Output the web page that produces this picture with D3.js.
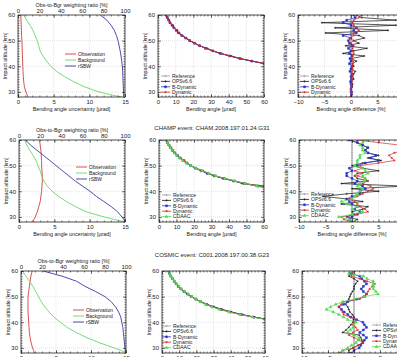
<!DOCTYPE html>
<html>
<head>
<meta charset="utf-8">
<script src="https://cdn.jsdelivr.net/npm/d3@7"></script>
<style>
  body { margin: 0; background: #fff; }
  text { font-family: "Liberation Sans", Arial, sans-serif; fill: #222; }
</style>
</head>
<body>
<div id="chart"></div>
<script>
// altitude levels [km]
var uncAlt = [60, 58, 56, 54, 52, 50, 48, 46, 44, 42, 40, 38, 36, 34, 32, 30, 29, 28];
var bendAlt = [60, 59, 58, 57, 56, 55, 54, 53, 52, 51, 50, 49, 48, 47, 46, 45, 44, 43, 42, 41, 40];
var diffAlt = [60, 59, 58, 57, 56, 55, 54, 53, 52, 51, 50, 49, 48, 47, 46, 45, 44, 43, 42, 41, 40,
               39, 38, 37, 36, 35, 34, 33, 32, 31, 30, 29, 28];

// tick labels
var altTicks = [30, 40, 50, 60];
var uncTicks = [0, 5, 10, 15];
var ratioTicks = [0, 20, 40, 60, 80, 100];
var bendTicks = [0, 10, 20, 30, 40, 50, 60];
var diffTicks = [-10, -5, 0, 5, 10];

var rowTitles = ["", "CHAMP event: CHAM.2008.197.01.24.G31", "COSMIC event: C001.2008.197.00.38.G23"];
var uncNames = ["Observation", "Background", "rSBW"];
var methods = ["Reference", "OPSv6.6", "B-Dynamic", "Dynamic", "CDAAC"];

// left panels: uncertainty [urad] and weighting ratio [%]
var obs1 = [0.4, 0.42, 0.45, 0.48, 0.5, 0.55, 0.58, 0.6, 0.62, 0.65, 0.68, 0.7, 0.75, 0.8, 0.9, 1.1, 1.25, 1.4];
var bgr1 = [0.8, 1.2, 1.7, 2.1, 2.4, 2.7, 2.9, 3.1, 3.5, 4.0, 4.6, 5.4, 6.5, 7.8, 9.3, 11.3, 12.8, 14.5];
var rsbw1 = [77, 83, 87, 90, 92, 93.5, 94.5, 95.5, 96.3, 97, 97.5, 97.8, 98, 98.2, 98.4, 98.6, 98.7, 98.8];

var obs2 = [2.9, 3.0, 3.1, 3.15, 3.2, 3.2, 3.25, 3.3, 3.3, 3.25, 3.2, 3.1, 3.0, 2.8, 2.6, 2.3, 2.1, 1.8];
var bgr2 = [0.8, 1.1, 1.5, 2.0, 2.4, 2.7, 3.0, 3.2, 3.5, 4.0, 4.7, 5.6, 6.7, 8.0, 9.5, 12.0, 13.5, 15];
var rsbw2 = [6, 11, 17, 23, 29, 35, 41, 47, 53, 60, 67, 73, 80, 87, 93, 97, 99, 100];

var obs3 = [1.6, 1.4, 1.3, 1.2, 1.1, 1.0, 1.0, 1.0, 1.0, 1.05, 1.1, 1.15, 1.2, 1.3, 1.45, 1.65, 1.8, 1.9];
var bgr3 = [0.2, 0.7, 1.2, 1.7, 2.1, 2.5, 2.9, 3.4, 4.0, 4.7, 5.6, 6.6, 7.9, 9.4, 11.2, 13.3, 14.3, 15];
var rsbw3 = [21, 39, 53, 61, 71, 80, 86, 90, 93, 95, 96, 97, 97.5, 98, 98.5, 99, 99.3, 99.5];

// middle panels: reference bending angle [urad]
var bend1 = [4.5, 5.2, 6.0, 6.9, 7.9, 9.0, 10.3, 11.8, 13.6, 15.6, 18.0, 20.6, 23.6, 27.0, 31.0, 35.5, 40.5, 46.5, 53.0, 60.5, 69.0];
var bend2 = [4.0, 4.7, 5.5, 6.4, 7.4, 8.6, 10.0, 11.6, 13.4, 15.5, 18.0, 20.8, 24.0, 27.7, 31.9, 36.7, 42.2, 48.5, 55.5, 63.5, 72.5];
var bend3 = [3.8, 4.4, 5.1, 6.0, 7.0, 8.1, 9.4, 10.9, 12.7, 14.7, 17.0, 19.7, 22.8, 26.4, 30.5, 35.2, 40.6, 46.8, 53.8, 61.8, 70.8];

// right panels: bending angle difference [%]
var ref0 = [0, 0, 0, 0, 0, 0, 0, 0, 0, 0, 0, 0, 0, 0, 0, 0, 0, 0, 0, 0, 0, 0, 0, 0, 0, 0, 0, 0, 0, 0, 0, 0, 0];

var ops1 = [1, 2, 8.5, -5.5, 8.5, -3, 7, -4.8, 1.5, 2.5, 0.5, 1.5, -1, 3, 0.5, -1.5, 2.5, 0, 1, 0.3, 0.5, 0, 0.8, 0.5, 0.3, 0.5, 0, 0.3, 0.2, 0, 0.2, 0.1, 0];
var bdyn1 = [0.5, 0.8, -0.8, -1.5, 0, 1, 0.5, 1, -1.5, 0, -0.5, -0.3, 0.3, -0.5, 0, -0.3, 0.2, -0.2, 0, -0.3, 0.2, 0, -0.2, 0.2, 0, 0.1, -0.1, 0, 0.1, 0, 0, 0.1, 0];
var dyn1 = [2, 1.5, 0.5, 0.3, 0.5, 1, 1.5, 0.5, 0.5, -0.3, 0.5, 0, 0.5, 0.3, 0.2, 0.5, 0.3, 0.2, 0.4, 0.3, 0.2, 0.3, 0.2, 0.3, 0.2, 0.1, 0.2, 0.1, 0.1, 0, 0.1, 0.1, 0];

var ops2 = [-0.5, 1, 2, 3, 2.5, 3, 5, 3, 5.5, 2, 0, 2, 5, 1, 0.5, 1, 3, -2, 10, 0, 5, -1, -5.5, -1, 2, -2, 3, 2, 0, 0.5, -1, 1, 0];
var bdyn2 = [-0.5, 1, 2, 3, 2.5, 3, 4.5, 3.5, 5, 2.5, 1, -0.5, 0, -1, -1, 0, 1, 0.5, 2, 2.5, 1.5, 1.5, 0, -1, -0.5, 0, 1, 0.5, 1.5, 1, 0, -0.5, 0];
var dyn2 = [1, 5, 9, 11.5, 10, 8, 7, 7.5, 8, 5, 1.5, 2, 0.5, 2, 1, 2.5, 3, 2, 3.5, 4, 3, 2, 1, -0.5, 0.5, 1, 1.5, 2.5, 3, 1, -2, -1.5, 0];
var cdaac2 = [3, 2, 1.5, 2, 2, 2.5, 1.5, 1.5, 1, 1, 0.5, 2, 2.5, 3, 2, 2.5, 2.5, 1.5, 1, 2, 1.5, 1, 0.5, 0, -2, -1, 1, 0, 2, 0, -2.5, -0.5, 0.5];

var ops3 = [0, -0.5, -1, 0, 0.7, 0.3, 0, 0, -0.3, -0.6, -0.8, -1, -1.3, -1.6, -1.2, -1, -0.8, -0.3, 0, -0.1, -0.2, -0.6, -1, -1.5, -2.2, 1, 1.3, 1.5, 1.7, 0.8, -0.2, -1, -1];
var bdyn3 = [-0.2, -0.8, 1.1, 1.5, 2, 2.4, 1.8, 1.4, 1.8, 2.4, 2, 0.5, -1.2, -2, -2.9, -2.4, -1.9, -1.2, -0.6, 0.5, 1.7, 2, 2.4, 1.8, 1.1, 1.8, 2.4, 2, 1.7, 1.3, 1, 0, -0.5];
var dyn3 = [0, -0.3, -0.5, 1.1, 2.5, 4, 3.5, 3, 2.7, 2.4, 1.8, 1.1, -2, -2.5, -2.9, -2.5, -2.2, -2, -0.8, 0.4, 0.1, -0.2, 0.3, 0.7, -0.2, -1, 0, 1, 1.7, 0.8, 0, -2.2, -2.5];
var cdaac3 = [0, -1, 1.8, 2.5, 3.7, 3.7, 3.8, 3.7, 4.2, 4.6, 2, 0, -2.2, -3.5, -4.5, -5.3, -4, -2.9, -2, -1.2, 0.4, 0, -0.2, -0.7, -1.2, 0, 1, 0.8, 0.4, -0.5, -1.2, -2.2, -3];

var uncColors = ["#d23c3c", "#66d866", "#3b3ba3"];
var methodColors = ["#9a9a9a", "#111111", "#2430c8", "#d42a2a", "#55d855"];
var methodMarks = ["plus", "plus", "square", "star", "triangle"];

var rows = [
    { unc: [obs1, bgr1, rsbw1], bend: bend1, diff: [ref0, ops1, bdyn1, dyn1] },
    { unc: [obs2, bgr2, rsbw2], bend: bend2, diff: [ref0, ops2, bdyn2, dyn2, cdaac2] },
    { unc: [obs3, bgr3, rsbw3], bend: bend3, diff: [ref0, ops3, bdyn3, dyn3, cdaac3] }
];

// placement of the panels in each row (pixels)
var layout = [
    { top: 15, h: 82, left: [18, 107], mid: [158, 106], right: [298, 106], titleY: 2,
      legL: [47, 39], legM: [3, 61], legR: [2, 61] },
    { top: 140, h: 82, left: [19, 106], mid: [159, 105], right: [299, 106], titleY: 130,
      legL: [57, 27], legM: [3, 55], legR: [1, 54] },
    { top: 271, h: 82, left: [21, 105], mid: [162, 103], right: [302, 104], titleY: 257,
      legL: [52, 39], legM: [0, 55], legR: [70, 54] }
];

var svg = d3.select("#chart").append("svg")
    .attr("width", 397)
    .attr("height", 357)
    .style("background", "#fff");

var clipCount = 0;

function range(a, b, s) {
    var out = [];
    for (var v = a; v <= b + 1e-9; v += s) out.push(+v.toFixed(3));
    return out;
}

// frame, dotted grid, inward major + minor ticks on all sides
function makePanel(px, py, w, h, x, y, xt, xMinor, yt, yMinor, xTitle) {
    var g = svg.append("g").attr("transform", "translate(" + px + "," + py + ")");
    var id = "clip" + (clipCount++);
    g.append("clipPath").attr("id", id).append("rect").attr("width", w).attr("height", h);

    var grid = g.append("g").attr("stroke", "#c8c8c8").attr("stroke-width", 0.5).attr("stroke-dasharray", "1,1");
    xt.forEach(function (t) {
        if (x(t) > 0.5 && x(t) < w - 0.5)
            grid.append("line").attr("x1", x(t)).attr("x2", x(t)).attr("y1", 0).attr("y2", h);
    });
    yt.forEach(function (t) {
        if (y(t) > 0.5 && y(t) < h - 0.5)
            grid.append("line").attr("y1", y(t)).attr("y2", y(t)).attr("x1", 0).attr("x2", w);
    });

    var plot = g.append("g").attr("clip-path", "url(#" + id + ")");

    g.append("g").attr("transform", "translate(0," + h + ")")
        .call(d3.axisBottom(x).tickValues(xt).tickSize(-3).tickPadding(3).tickFormat(d3.format("d")));
    g.append("g").attr("transform", "translate(0," + h + ")")
        .call(d3.axisBottom(x).tickValues(xMinor).tickSize(-1.5).tickFormat(""));
    g.append("g").call(d3.axisTop(x).tickValues(xt).tickSize(-3).tickFormat(""));
    g.append("g").call(d3.axisTop(x).tickValues(xMinor).tickSize(-1.5).tickFormat(""));
    g.append("g")
        .call(d3.axisLeft(y).tickValues(yt).tickSize(-3).tickPadding(3).tickFormat(d3.format("d")));
    g.append("g").call(d3.axisLeft(y).tickValues(yMinor).tickSize(-1.5).tickFormat(""));
    g.append("g").attr("transform", "translate(" + w + ",0)")
        .call(d3.axisRight(y).tickValues(yt).tickSize(-3).tickFormat(""));
    g.append("g").attr("transform", "translate(" + w + ",0)")
        .call(d3.axisRight(y).tickValues(yMinor).tickSize(-1.5).tickFormat(""));

    g.append("rect").attr("width", w).attr("height", h)
        .attr("fill", "none").attr("stroke", "#222").attr("stroke-width", 0.8);

    g.append("text").attr("x", w / 2).attr("y", h + 14)
        .attr("text-anchor", "middle").style("font-size", "5.4px").text(xTitle);
    g.append("text").attr("transform", "translate(-11," + (h / 2) + ") rotate(-90)")
        .attr("text-anchor", "middle").style("font-size", "5.4px").text("Impact altitude [km]");

    return { g: g, plot: plot };
}

function markPath(type, s) {
    if (type === "plus") return "M" + (-s) + ",0H" + s + "M0," + (-s) + "V" + s;
    if (type === "star") return "M" + (-s) + ",0H" + s + "M0," + (-s) + "V" + s +
        "M" + (-s * 0.7) + "," + (-s * 0.7) + "L" + (s * 0.7) + "," + (s * 0.7) +
        "M" + (-s * 0.7) + "," + (s * 0.7) + "L" + (s * 0.7) + "," + (-s * 0.7);
    if (type === "square") return d3.symbol(d3.symbolSquare, 3.5)();
    return d3.symbol(d3.symbolTriangle, 3.5)();
}

function drawMarks(sel, pts, type, color, s) {
    sel.selectAll(null).data(pts).enter().append("path")
        .attr("transform", function (p) { return "translate(" + p[0] + "," + p[1] + ")"; })
        .attr("d", markPath(type, s))
        .attr("fill", type === "square" || type === "triangle" ? color : "none")
        .attr("stroke", color)
        .attr("stroke-width", 0.5);
}

function methodLegend(g, x0, y0, n) {
    for (var i = 0; i < n; i++) {
        var yy = y0 + i * 5.4;
        g.append("line").attr("x1", x0).attr("x2", x0 + 9).attr("y1", yy).attr("y2", yy)
            .attr("stroke", methodColors[i]).attr("stroke-width", 0.8);
        drawMarks(g, [[x0 + 4.5, yy]], methodMarks[i], methodColors[i], 1.2);
        g.append("text").attr("x", x0 + 11).attr("y", yy).attr("dy", "0.35em")
            .style("font-size", "5px").text(methods[i]);
    }
}

rows.forEach(function (row, r) {
    var L = layout[r];
    var h = L.h;
    var y = d3.scaleLinear().domain([28, 60]).range([h, 0]);
    var yMinor = range(28, 60, 1);

    if (rowTitles[r])
        svg.append("text").attr("x", 212).attr("y", L.titleY)
            .attr("text-anchor", "middle").style("font-size", "6px").text(rowTitles[r]);

    // ---- left: uncertainties and weighting ratio
    var wL = L.left[1];
    var xu = d3.scaleLinear().domain([0, 15]).range([0, wL]);
    var xr = d3.scaleLinear().domain([0, 100]).range([0, wL]);
    var pL = makePanel(L.left[0], L.top, wL, h, xu, y, uncTicks, range(0, 15, 1), altTicks, yMinor,
        "Bending angle uncertainty [\u00b5rad]");
    pL.g.append("g")
        .call(d3.axisTop(xr).tickValues(ratioTicks).tickSize(0).tickPadding(2));
    pL.g.append("text").attr("x", wL / 2).attr("y", -8)
        .attr("text-anchor", "middle").style("font-size", "5.4px").text("Obs-to-Bgr weighting ratio [%]");

    row.unc.forEach(function (vals, k) {
        var xs = k === 2 ? xr : xu;
        var line = d3.line()
            .x(function (d, i) { return xs(vals[i]); })
            .y(function (d) { return y(d); });
        pL.plot.append("path").datum(uncAlt).attr("d", line)
            .attr("fill", "none").attr("stroke", uncColors[k]).attr("stroke-width", 0.9);
        var ly = L.legL[1] + k * 6;
        pL.g.append("line").attr("x1", L.legL[0]).attr("x2", L.legL[0] + 11)
            .attr("y1", ly).attr("y2", ly).attr("stroke", uncColors[k]).attr("stroke-width", 0.9);
        pL.g.append("text").attr("x", L.legL[0] + 13).attr("y", ly).attr("dy", "0.35em")
            .style("font-size", "5px").text(uncNames[k]);
    });

    // ---- middle: bending angle profiles
    var wM = L.mid[1];
    var xb = d3.scaleLinear().domain([0, 60]).range([0, wM]);
    var pM = makePanel(L.mid[0], L.top, wM, h, xb, y, bendTicks, range(0, 60, 2), altTicks, yMinor,
        "Bending angle [\u00b5rad]");
    row.diff.forEach(function (dv, m) {
        var pts = bendAlt.map(function (a, i) {
            return [xb(row.bend[i] * (1 + dv[i] / 100)), y(a)];
        });
        pM.plot.append("path").datum(pts).attr("d", d3.line())
            .attr("fill", "none").attr("stroke", methodColors[m]).attr("stroke-width", 0.8);
        drawMarks(pM.plot, pts, methodMarks[m], methodColors[m], 1.1);
    });
    methodLegend(pM.g, L.legM[0], L.legM[1], row.diff.length);

    // ---- right: bending angle differences
    var wR = L.right[1];
    var xd = d3.scaleLinear().domain([-10, 10]).range([0, wR]);
    var pR = makePanel(L.right[0], L.top, wR, h, xd, y, diffTicks, range(-10, 10, 1), altTicks, yMinor,
        "Bending angle difference [%]");
    row.diff.forEach(function (dv, m) {
        var pts = diffAlt.map(function (a, i) { return [xd(dv[i]), y(a)]; });
        pR.plot.append("path").datum(pts).attr("d", d3.line())
            .attr("fill", "none").attr("stroke", methodColors[m]).attr("stroke-width", 0.7);
        drawMarks(pR.plot, pts, methodMarks[m], methodColors[m], 1.1);
    });
    methodLegend(pR.g, L.legR[0], L.legR[1], row.diff.length);
});

svg.selectAll(".domain").remove();
svg.selectAll(".tick line").attr("stroke", "#222").attr("stroke-width", 0.6);
svg.selectAll(".tick text").style("font-size", "6px").attr("fill", "#222");
</script>
</body>
</html>
